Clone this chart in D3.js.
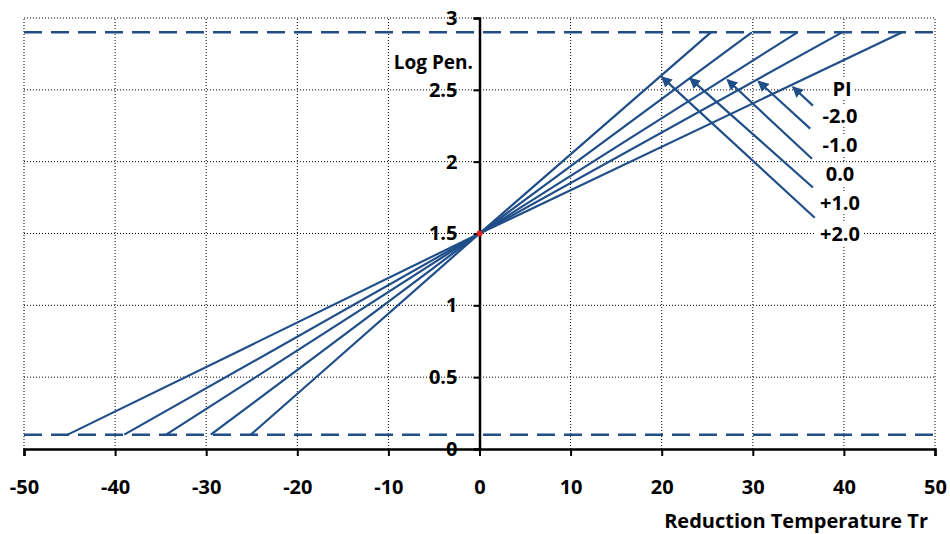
<!DOCTYPE html>
<html>
<head>
<meta charset="utf-8">
<script src="https://cdn.jsdelivr.net/npm/d3@7"></script>
<style>
  body { margin: 0; background: #fff; }
  text { font-family: "Open Sans", Lato, sans-serif; font-weight: bold; }
</style>
</head>
<body>
<div id="chart"></div>
<script>
// PI lines: start on the lower limit, pass through (0, 1.5), end on the upper limit
var piLabels = ['-2.0', '-1.0', '0.0', '+1.0', '+2.0'];
var xLow = [-45.2, -39, -34.4, -29.5, -25.1];
var xHigh = [46.4, 39.8, 34.9, 29.9, 25.4];
var pivot = [0, 1.5];
var limits = [0.1, 2.9];
var xTicks = [-50, -40, -30, -20, -10, 0, 10, 20, 30, 40, 50];
var yTicks = [0, 0.5, 1, 1.5, 2, 2.5, 3];
// arrow tails and heads (data coords) pointing from labels to lines
var arrowTail = [[36.6, 2.39], [36.3, 2.23], [36.5, 2.02], [36.6, 1.82], [36.8, 1.61]];
var arrowHead = [[34.4, 2.52], [30.6, 2.56], [27.2, 2.57], [23.1, 2.58], [20.0, 2.59]];

var size = { width: 950, height: 534 };
var margin = { left: 24, right: 15, top: 18, bottom: 85 };

var svg = d3.select('#chart').append('svg')
  .attr('width', size.width)
  .attr('height', size.height);

var x = d3.scaleLinear().domain([-50, 50]).range([margin.left, size.width - margin.right]);
var y = d3.scaleLinear().domain([0, 3]).range([size.height - margin.bottom, margin.top]);

var blue = '#1f4e89';

svg.append('defs').append('marker')
  .attr('id', 'arrow')
  .attr('viewBox', '0 0 10 10')
  .attr('refX', 9).attr('refY', 5)
  .attr('markerWidth', 5).attr('markerHeight', 5)
  .attr('orient', 'auto')
  .append('path')
  .attr('d', 'M0,0 L10,5 L0,10 z')
  .attr('fill', blue);

// gridlines
svg.append('g').selectAll('line')
  .data(xTicks.filter(function(d){ return d !== 0; }))
  .enter().append('line')
  .attr('x1', function(d){ return x(d); }).attr('x2', function(d){ return x(d); })
  .attr('y1', y(0)).attr('y2', y(3))
  .attr('stroke', '#000').attr('stroke-width', 1).attr('stroke-dasharray', '1,2');

svg.append('g').selectAll('line')
  .data(yTicks.filter(function(d){ return d !== 0; }))
  .enter().append('line')
  .attr('y1', function(d){ return y(d); }).attr('y2', function(d){ return y(d); })
  .attr('x1', x(-50)).attr('x2', x(50))
  .attr('stroke', '#000').attr('stroke-width', 1).attr('stroke-dasharray', '1,2');

// limit lines
svg.append('g').selectAll('line')
  .data(limits)
  .enter().append('line')
  .attr('y1', function(d){ return y(d); }).attr('y2', function(d){ return y(d); })
  .attr('x1', x(-50)).attr('x2', x(50))
  .attr('stroke', blue).attr('stroke-width', 2.5).attr('stroke-dasharray', '18,9');

// PI lines
var line = d3.line().x(function(d){ return x(d[0]); }).y(function(d){ return y(d[1]); });
svg.append('g').selectAll('path')
  .data(piLabels.map(function(p, i){ return [[xLow[i], limits[0]], pivot, [xHigh[i], limits[1]]]; }))
  .enter().append('path')
  .attr('d', line)
  .attr('fill', 'none')
  .attr('stroke', blue).attr('stroke-width', 2.2);

// axes
var xAxis = svg.append('g')
  .attr('transform', 'translate(0,' + y(0) + ')')
  .call(d3.axisBottom(x).tickValues(xTicks).tickSize(7).tickPadding(24).tickFormat(function(d){ return String(d); }));
xAxis.select('.domain').attr('stroke-width', 2.5);
xAxis.selectAll('.tick line').attr('stroke-width', 2);
xAxis.selectAll('text').attr('font-size', 20).attr('fill', '#000');

var yAxis = svg.append('g')
  .attr('transform', 'translate(' + x(0) + ',0)')
  .call(d3.axisLeft(y).tickValues(yTicks).tickSize(6).tickPadding(16).tickFormat(function(d){ return String(d); }));
yAxis.select('.domain').attr('stroke-width', 2.5);
yAxis.selectAll('.tick line').attr('stroke-width', 2);
yAxis.selectAll('text').attr('font-size', 20).attr('fill', '#000');

// pivot marker
svg.append('circle')
  .attr('cx', x(pivot[0])).attr('cy', y(pivot[1])).attr('r', 3)
  .attr('fill', '#e02020');

// arrows
svg.append('g').selectAll('line')
  .data(arrowTail)
  .enter().append('line')
  .attr('x1', function(d){ return x(d[0]); }).attr('y1', function(d){ return y(d[1]); })
  .attr('x2', function(d, i){ return x(arrowHead[i][0]); }).attr('y2', function(d, i){ return y(arrowHead[i][1]); })
  .attr('stroke', blue).attr('stroke-width', 2.2)
  .attr('marker-end', 'url(#arrow)');

// PI labels with white boxes
var labelY = [116, 145, 174, 203, 234];
var lab = svg.append('g').selectAll('g')
  .data(['PI'].concat(piLabels))
  .enter().append('g')
  .attr('transform', function(d, i){ return 'translate(' + (i === 0 ? 842 : 840) + ',' + (i === 0 ? 89 : labelY[i - 1]) + ')'; });
lab.append('rect')
  .attr('x', function(d){ return d === 'PI' ? -12 : -24; }).attr('y', -11)
  .attr('width', function(d){ return d === 'PI' ? 24 : 48; }).attr('height', 22)
  .attr('fill', '#fff');
lab.append('text')
  .attr('text-anchor', 'middle').attr('dy', '0.35em')
  .attr('font-size', 20).attr('fill', '#000')
  .text(function(d){ return d; });

svg.append('text')
  .attr('x', 473).attr('y', 62).attr('dy', '0.35em')
  .attr('text-anchor', 'end').attr('font-size', 19)
  .text('Log Pen.');

svg.append('text')
  .attr('x', 928).attr('y', 521).attr('dy', '0.35em')
  .attr('text-anchor', 'end').attr('font-size', 20)
  .text('Reduction Temperature Tr');
</script>
</body>
</html>
